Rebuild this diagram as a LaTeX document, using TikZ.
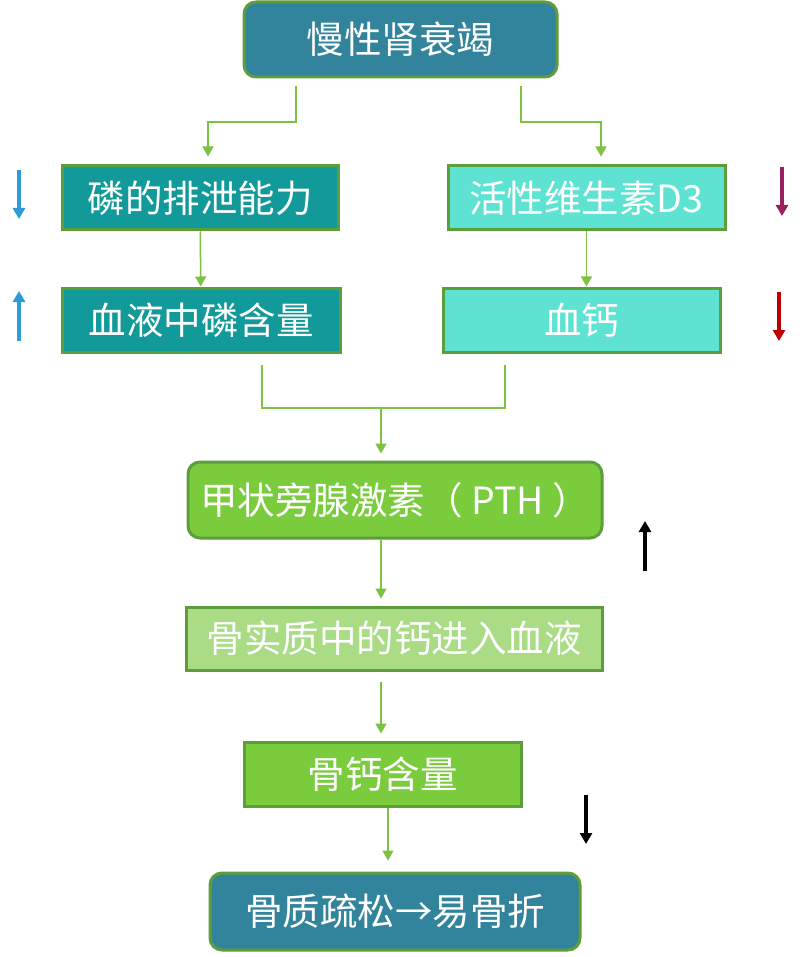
\documentclass[tikz,border=0pt]{standalone}
\usepackage{fontspec}
\newfontfamily\cjk{Noto Sans CJK SC}
\usetikzlibrary{arrows.meta}
\definecolor{ckdblue}{HTML}{31849B}
\definecolor{edgegreen}{HTML}{5E9E3A}
\definecolor{linegreen}{HTML}{7DC242}
\definecolor{phosteal}{HTML}{129A9A}
\definecolor{vitaqua}{HTML}{5EE3D3}
\definecolor{pthgreen}{HTML}{7ACC3C}
\definecolor{palegreen}{HTML}{A9DC85}
\definecolor{upblue}{HTML}{2E9BD6}
\definecolor{vitpurple}{HTML}{9B2062}
\definecolor{cared}{HTML}{C00000}
\begin{document}
\begin{tikzpicture}[x=1pt,y=-1pt,
  box/.style={draw=edgegreen,line width=3pt,text=white,inner sep=0pt,
    font=\cjk\fontsize{37.5}{40}\selectfont},
  arr/.style={draw=linegreen,line width=1.5pt,-{Triangle[width=11pt,length=10pt]}},
  link/.style={draw=linegreen,line width=1.5pt},
  trend/.style={line width=3.5pt,-{Triangle[width=12pt,length=11pt]}}]
\useasboundingbox (0,0) rectangle (802,957);
\fill[white] (0,0) rectangle (802,957);
% boxes
\node[box,fill=ckdblue,rounded corners=12pt,minimum width=313pt,minimum height=75pt] (ckd) at (400.5,39.5) {慢性肾衰竭};
\node[box,fill=phosteal,minimum width=276pt,minimum height=64pt] (excr) at (200,198) {磷的排泄能力};
\node[box,fill=vitaqua,minimum width=277pt,minimum height=64pt] (vitd) at (586.5,198) {活性维生素D3};
\node[box,fill=phosteal,minimum width=278pt,minimum height=64pt] (bphos) at (201,320) {血液中磷含量};
\node[box,fill=vitaqua,minimum width=277pt,minimum height=64pt] (bca) at (581.5,320) {血钙};
\node[box,fill=pthgreen,rounded corners=12pt,minimum width=414pt,minimum height=76pt] (pth) at (395,500) {甲状旁腺激素（ PTH ）};
\node[box,fill=palegreen,minimum width=416pt,minimum height=63pt] (bone) at (394,638.5) {骨实质中的钙进入血液};
\node[box,fill=pthgreen,minimum width=277pt,minimum height=64pt] (bcal) at (382.5,774) {骨钙含量};
\node[box,fill=ckdblue,rounded corners=12pt,minimum width=370pt,minimum height=77pt] (osteo) at (395,911.5) {骨质疏松→易骨折};
% connectors
\coordinate (l0) at (296,86);
\coordinate (r0) at (521,86);
\coordinate (m1) at (262,365);
\coordinate (m2) at (505,365);
\coordinate (mid) at (381,408);
\draw[arr,shorten >=8pt] (l0) -- ++(0,36) -| ([xshift=8pt]excr.north);
\draw[arr,shorten >=8pt] (r0) -- ++(0,36) -| ([xshift=14.5pt]vitd.north);
\draw[arr] (excr) -- (bphos);
\draw[arr] (vitd.south) -- (bca.north -| vitd.south);
\draw[link] (m1) |- (mid) -| (m2);
\draw[arr,shorten >=7pt] (mid) -- (mid |- pth.north);
\draw[arr,shorten >=7pt] (pth.south -| mid) -- (bone.north -| mid);
\draw[arr,shorten <=10pt,shorten >=7pt] (bone.south -| mid) -- (bcal.north -| mid);
\draw[arr,shorten >=11pt] ([xshift=5.5pt]bcal.south) -- ([xshift=5.5pt]bcal.south |- osteo.north);
% trend arrows
\draw[trend,upblue] (19,170) -- (19,219);
\draw[trend,upblue] (19,341) -- (19,291);
\draw[trend,vitpurple] (782,167) -- (782,216);
\draw[trend,cared] (779,292) -- (779,341);
\draw[trend,black] (645,571) -- (645,521);
\draw[trend,black] (586,795) -- (586,844);
\end{tikzpicture}
\end{document}
